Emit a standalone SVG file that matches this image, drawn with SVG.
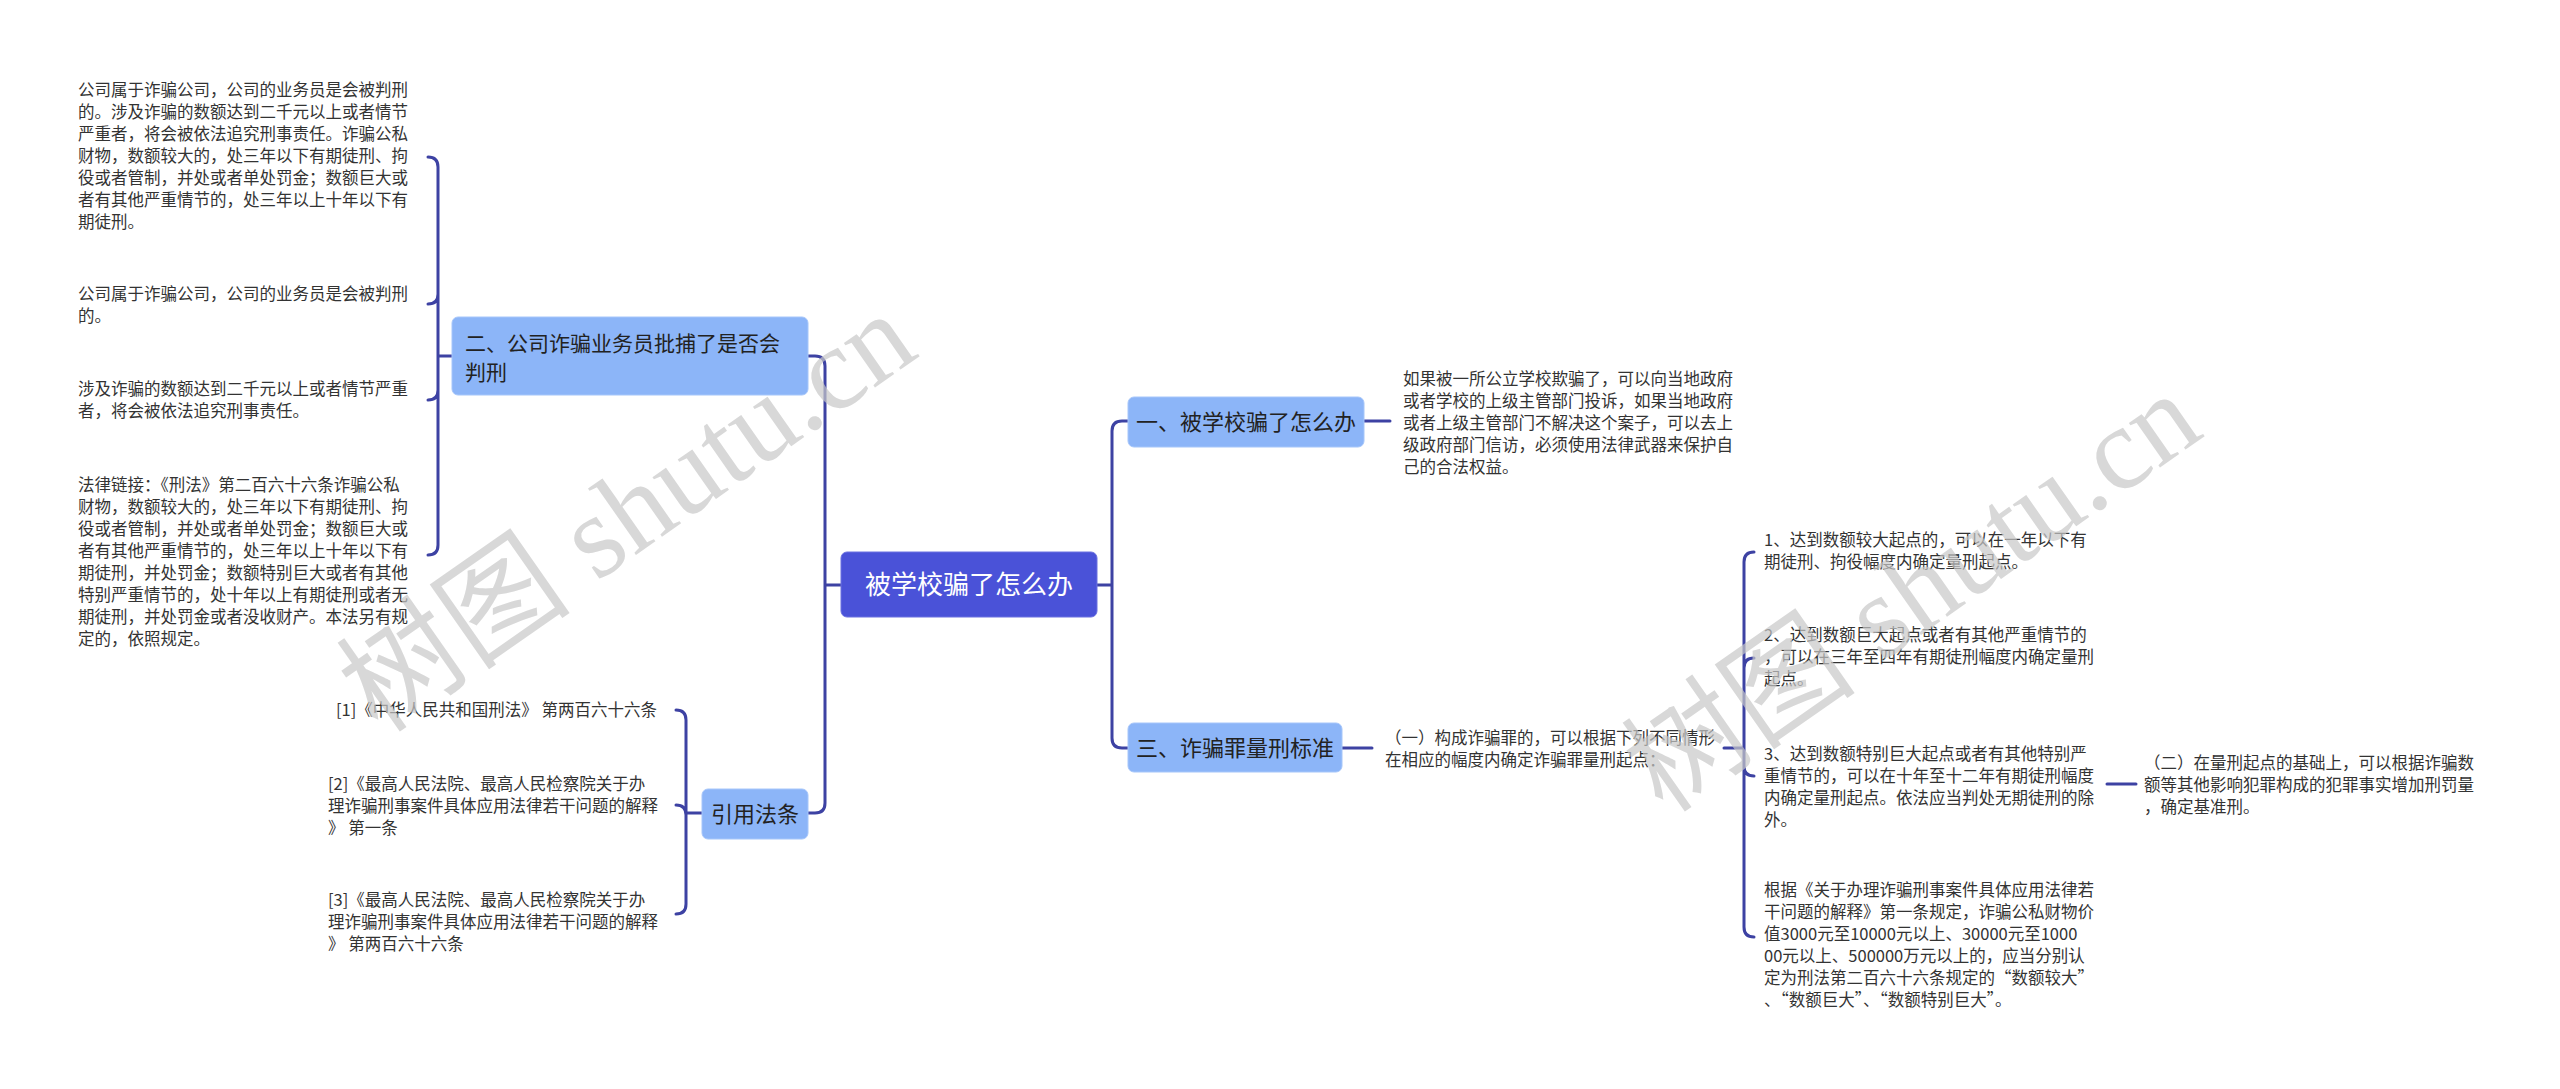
<svg xmlns="http://www.w3.org/2000/svg" width="2560" height="1089" viewBox="0 0 2560 1089">
<style>
.t{font-family:"Noto Sans CJK SC","Noto Sans",sans-serif;font-size:16.5px;fill:#333}
.b{font-family:"Noto Sans CJK SC","Noto Sans",sans-serif;font-size:22px;fill:#222}
.r{font-family:"Noto Sans CJK SC","Noto Sans",sans-serif;font-size:26px;fill:#fff}
.box{fill:#8cb5f8;stroke:#a6c6fa;stroke-width:1}
.c{fill:none;stroke:#3d42a3;stroke-width:3;stroke-linecap:round}
.w{font-family:"Liberation Serif","Noto Sans CJK SC",serif;font-size:118px;fill:#c8c8c8;opacity:0.7}
</style>
<rect width="2560" height="1089" fill="#fff"/>
<g id="connectors">
<path class="c" d="M1097 585 H1112 M1112 585 V431 Q1112 421 1122 421 H1128 M1112 585 V738 Q1112 748 1122 748 H1128"/>
<path class="c" d="M841 585 H825 M825 585 V366 Q825 356 815 356 H808 M825 585 V803 Q825 813 815 813 H808"/>
<path class="c" d="M452 356 H438 M438 356 V167 Q438 157 428 157 M438 356 V294 Q438 304 428 304 M438 356 V390 Q438 400 428 400 M438 356 V545 Q438 555 428 555"/>
<path class="c" d="M702 813 H686 M686 813 V720 Q686 710 676 710 M686 813 V815 Q686 805 676 805 M686 813 V904 Q686 914 676 914"/>
<path class="c" d="M1364 421 H1390"/>
<path class="c" d="M1342 748 H1372"/>
<path class="c" d="M1724 748 H1744 M1744 748 V562 Q1744 552 1754 552 M1744 748 V668 Q1744 658 1754 658 M1744 748 V766 Q1744 776 1754 776 M1744 748 V927 Q1744 937 1754 937"/>
<path class="c" d="M2107 784 H2136"/>
</g>
<g id="root">
<rect x="841" y="552" width="256" height="65" rx="6" fill="#4a52d8" stroke="#6a70e0"/>
<text class="r" x="969" y="594" text-anchor="middle">被学校骗了怎么办</text>
</g>
<g id="b2">
<rect class="box" x="452" y="317" width="356" height="78" rx="6"/>
<text class="b" x="465" y="351" style="font-size:21px">二、公司诈骗业务员批捕了是否会</text>
<text class="b" x="465" y="380" style="font-size:21px">判刑</text>
</g>
<g id="b2c1"><text class="t" x="78">
<tspan x="78" y="96">公司属于诈骗公司，公司的业务员是会被判刑</tspan>
<tspan x="78" y="118">的。涉及诈骗的数额达到二千元以上或者情节</tspan>
<tspan x="78" y="140">严重者，将会被依法追究刑事责任。诈骗公私</tspan>
<tspan x="78" y="162">财物，数额较大的，处三年以下有期徒刑、拘</tspan>
<tspan x="78" y="184">役或者管制，并处或者单处罚金；数额巨大或</tspan>
<tspan x="78" y="206">者有其他严重情节的，处三年以上十年以下有</tspan>
<tspan x="78" y="228">期徒刑。</tspan></text></g>
<g id="b2c2"><text class="t">
<tspan x="78" y="300">公司属于诈骗公司，公司的业务员是会被判刑</tspan>
<tspan x="78" y="322">的。</tspan></text></g>
<g id="b2c3"><text class="t">
<tspan x="78" y="395">涉及诈骗的数额达到二千元以上或者情节严重</tspan>
<tspan x="78" y="417">者，将会被依法追究刑事责任。</tspan></text></g>
<g id="b2c4"><text class="t">
<tspan x="78" y="491">法律链接：《刑法》第二百六十六条诈骗公私</tspan>
<tspan x="78" y="513">财物，数额较大的，处三年以下有期徒刑、拘</tspan>
<tspan x="78" y="535">役或者管制，并处或者单处罚金；数额巨大或</tspan>
<tspan x="78" y="557">者有其他严重情节的，处三年以上十年以下有</tspan>
<tspan x="78" y="579">期徒刑，并处罚金；数额特别巨大或者有其他</tspan>
<tspan x="78" y="601">特别严重情节的，处十年以上有期徒刑或者无</tspan>
<tspan x="78" y="623">期徒刑，并处罚金或者没收财产。本法另有规</tspan>
<tspan x="78" y="645">定的，依照规定。</tspan></text></g>
<g id="ref">
<rect class="box" x="702" y="789" width="106" height="50" rx="6"/>
<text class="b" x="755" y="822" text-anchor="middle">引用法条</text>
</g>
<g id="ref1"><text class="t" x="336" y="716">[1]《中华人民共和国刑法》 第两百六十六条</text></g>
<g id="ref2"><text class="t">
<tspan x="328" y="790">[2]《最高人民法院、最高人民检察院关于办</tspan>
<tspan x="328" y="812">理诈骗刑事案件具体应用法律若干问题的解释</tspan>
<tspan x="328" y="834">》 第一条</tspan></text></g>
<g id="ref3"><text class="t">
<tspan x="328" y="906">[3]《最高人民法院、最高人民检察院关于办</tspan>
<tspan x="328" y="928">理诈骗刑事案件具体应用法律若干问题的解释</tspan>
<tspan x="328" y="950">》 第两百六十六条</tspan></text></g>
<g id="b1">
<rect class="box" x="1128" y="397" width="236" height="50" rx="6"/>
<text class="b" x="1246" y="430" text-anchor="middle">一、被学校骗了怎么办</text>
</g>
<g id="b1c"><text class="t">
<tspan x="1403" y="385">如果被一所公立学校欺骗了，可以向当地政府</tspan>
<tspan x="1403" y="407">或者学校的上级主管部门投诉，如果当地政府</tspan>
<tspan x="1403" y="429">或者上级主管部门不解决这个案子，可以去上</tspan>
<tspan x="1403" y="451">级政府部门信访，必须使用法律武器来保护自</tspan>
<tspan x="1403" y="473">己的合法权益。</tspan></text></g>
<g id="b3">
<rect class="box" x="1128" y="723" width="214" height="49" rx="6"/>
<text class="b" x="1235" y="756" text-anchor="middle">三、诈骗罪量刑标准</text>
</g>
<g id="b3c"><text class="t">
<tspan x="1385" y="744">（一）构成诈骗罪的，可以根据下列不同情形</tspan>
<tspan x="1385" y="766">在相应的幅度内确定诈骗罪量刑起点：</tspan></text></g>
<g id="s1"><text class="t">
<tspan x="1764" y="546">1、达到数额较大起点的，可以在一年以下有</tspan>
<tspan x="1764" y="568">期徒刑、拘役幅度内确定量刑起点。</tspan></text></g>
<g id="s2"><text class="t">
<tspan x="1764" y="641">2、达到数额巨大起点或者有其他严重情节的</tspan>
<tspan x="1764" y="663">，可以在三年至四年有期徒刑幅度内确定量刑</tspan>
<tspan x="1764" y="685">起点。</tspan></text></g>
<g id="s3"><text class="t">
<tspan x="1764" y="760">3、达到数额特别巨大起点或者有其他特别严</tspan>
<tspan x="1764" y="782">重情节的，可以在十年至十二年有期徒刑幅度</tspan>
<tspan x="1764" y="804">内确定量刑起点。依法应当判处无期徒刑的除</tspan>
<tspan x="1764" y="826">外。</tspan></text></g>
<g id="s3c"><text class="t">
<tspan x="2144" y="769">（二）在量刑起点的基础上，可以根据诈骗数</tspan>
<tspan x="2144" y="791">额等其他影响犯罪构成的犯罪事实增加刑罚量</tspan>
<tspan x="2144" y="813">，确定基准刑。</tspan></text></g>
<g id="s4"><text class="t">
<tspan x="1764" y="896">根据《关于办理诈骗刑事案件具体应用法律若</tspan>
<tspan x="1764" y="918">干问题的解释》第一条规定，诈骗公私财物价</tspan>
<tspan x="1764" y="940">值3000元至10000元以上、30000元至1000</tspan>
<tspan x="1764" y="962">00元以上、500000万元以上的，应当分别认</tspan>
<tspan x="1764" y="984">定为刑法第二百六十六条规定的“数额较大”</tspan>
<tspan x="1764" y="1006">、“数额巨大”、“数额特别巨大”。</tspan></text></g>
<g id="watermarks">
<text class="w" transform="translate(650 545) rotate(-35)" text-anchor="middle">树图 shutu.cn</text>
<text class="w" transform="translate(1935 625) rotate(-35)" text-anchor="middle">树图 shutu.cn</text>
</g>
</svg>
